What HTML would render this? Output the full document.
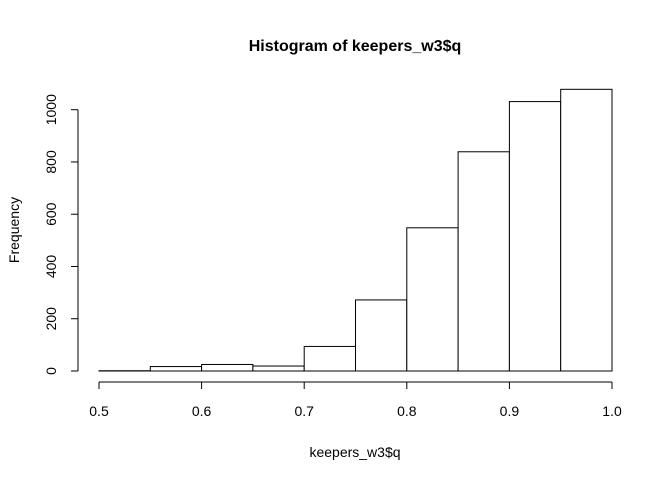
<!DOCTYPE html>
<html><head><meta charset="utf-8"><style>
html,body{margin:0;padding:0;background:#fff;}
svg{display:block;font-family:"Liberation Sans",Arial,sans-serif;}
</style></head><body>
<svg id="chart" width="672" height="480">
<text x="355" y="51" text-anchor="middle" font-size="16" font-weight="bold">Histogram of keepers_w3$q</text>
<text x="355" y="457" text-anchor="middle" font-size="14">keepers_w3$q</text>
<text transform="translate(19,230) rotate(-90)" text-anchor="middle" font-size="14">Frequency</text>
<g id="bars"></g>
<g id="xaxis"></g>
<g id="yaxis"></g>
</svg>
<script>
const binStarts = [0.5,0.55,0.6,0.65,0.7,0.75,0.8,0.85,0.9,0.95];
const counts = [1,17,25,19,94,272,548,839,1031,1078];
const xTicks = [0.5,0.6,0.7,0.8,0.9,1.0];
const xTickLabels = ["0.5","0.6","0.7","0.8","0.9","1.0"];
const yTicks = [0,200,400,600,800,1000];
const binWidth = 0.05;
const NS = "http://www.w3.org/2000/svg";
function xs(v){return 99 + (v-0.5)*1026;}
function ys(v){return 371 - v*0.2613;}
function mk(tag, attrs, parent){const e=document.createElementNS(NS,tag);for(const k in attrs)e.setAttribute(k,attrs[k]);parent.appendChild(e);return e;}
const bars=document.getElementById('bars');
binStarts.forEach((b,i)=>{
  const x0=xs(b), x1=xs(b+binWidth), y=ys(counts[i]);
  const r=mk('rect',{x:x0,y:y,width:x1-x0,height:ys(0)-y,fill:'#fff',stroke:'#000','stroke-width':1},bars);
  
  
});
const xa=document.getElementById('xaxis');
mk('line',{x1:xs(xTicks[0]),x2:xs(xTicks[xTicks.length-1]),y1:382,y2:382,stroke:'#000'},xa);
xTicks.forEach((t,i)=>{
  mk('line',{x1:xs(t),x2:xs(t),y1:382,y2:389,stroke:'#000'},xa);
  const tx=mk('text',{x:xs(t),y:416,'text-anchor':'middle','font-size':14},xa);
  tx.textContent=xTickLabels[i];
  
  
});
const ya=document.getElementById('yaxis');
mk('line',{x1:78,x2:78,y1:ys(yTicks[0]),y2:ys(yTicks[yTicks.length-1]),stroke:'#000'},ya);
yTicks.forEach(t=>{
  mk('line',{x1:71,x2:78,y1:ys(t),y2:ys(t),stroke:'#000'},ya);
  const tx=mk('text',{transform:'translate(56,'+ys(t)+') rotate(-90)','text-anchor':'middle','font-size':14},ya);
  tx.textContent=String(t);
  
  
});
</script>
</body></html>
